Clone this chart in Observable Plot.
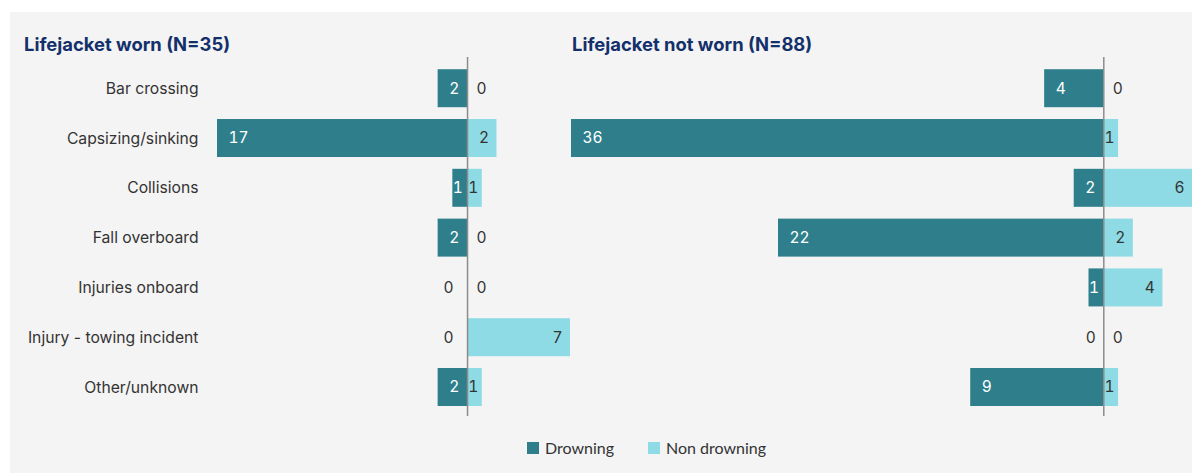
<!DOCTYPE html>
<html>
<head>
<meta charset="utf-8">
<script src="https://cdn.jsdelivr.net/npm/d3@7"></script>
<script src="https://cdn.jsdelivr.net/npm/@observablehq/plot@0.6"></script>
<style>
  html, body { margin: 0; padding: 0; background: #ffffff; }
  #wrap { position: relative; width: 1192px; height: 473px; overflow: hidden; }
  #bg { position: absolute; left: 10px; top: 12px; width: 1182px; height: 461px; background: #f4f4f4; }
  .title { position: absolute; top: 35px; font-family: Inter, sans-serif; font-weight: bold; font-size: 18.4px; line-height: 18px; color: #13306b; white-space: nowrap; }
  .panel { position: absolute; top: 0; }
  #legend { position: absolute; top: 438px; left: 527px; display: flex; align-items: center; font-family: Lato, sans-serif; font-size: 16px; color: #333; }
  .sw { width: 12px; height: 12px; margin-right: 6px; display: inline-block; }
  .item { display: flex; align-items: center; margin-right: 34px; }
</style>
</head>
<body>
<div id="wrap">
  <div id="bg"></div>
  <div class="title" style="left:24px">Lifejacket worn (N=35)</div>
  <div class="title" style="left:572px">Lifejacket not worn (N=88)</div>
  <div id="left" class="panel" style="left:0px"></div>
  <div id="right" class="panel" style="left:560px"></div>
  <div id="legend"></div>
</div>
<script>
const categories = ["Bar crossing", "Capsizing/sinking", "Collisions", "Fall overboard", "Injuries onboard", "Injury - towing incident", "Other/unknown"];
const wornDrowning = [2, 17, 1, 2, 0, 0, 2];
const wornNonDrowning = [0, 2, 1, 0, 0, 7, 1];
const notWornDrowning = [4, 36, 2, 22, 1, 0, 9];
const notWornNonDrowning = [0, 1, 6, 2, 4, 0, 1];
const seriesNames = ["Drowning", "Non drowning"];
const seriesColors = ["#2e7f8b", "#8edbe5"];

function panel({drown, nondrown, domain, width, marginLeft, marginRight, showY, zeroDx}) {
  const rows = categories.map((c, i) => ({cat: c, d: drown[i], n: nondrown[i]}));
  const font = {fontSize: 15.5};
  return Plot.plot({
    width, height: 430,
    marginTop: 57, marginBottom: 14, marginLeft, marginRight,
    style: {background: "transparent", fontFamily: "Inter, sans-serif", fontSize: "15.7px", color: "#333"},
    x: {domain, axis: null},
    y: {domain: categories, paddingInner: 0.237, paddingOuter: 0.223, align: 0.55, round: false, axis: showY ? "left" : null, tickSize: 0, tickPadding: 19, label: null},
    marks: [
      Plot.barX(rows.filter(r => r.d > 0), {x1: 0, x2: r => -r.d, y: "cat", fill: seriesColors[0]}),
      Plot.barX(rows.filter(r => r.n > 0), {x1: 0, x2: "n", y: "cat", fill: seriesColors[1]}),
      Plot.ruleX([0], {stroke: "#8c8c8c", strokeWidth: 1.5}),
      Plot.text(rows.filter(r => r.d > 1), {x: r => -r.d, y: "cat", text: "d", textAnchor: "start", dx: 11, fill: "white", ...font}),
      Plot.text(rows.filter(r => r.d === 1), {x: r => -r.d, y: "cat", text: "d", textAnchor: "start", dx: 0, fill: "white", ...font}),
      Plot.text(rows.filter(r => r.d === 0), {x: 0, y: "cat", text: "d", textAnchor: "end", dx: zeroDx, fill: "#333", ...font}),
      Plot.text(rows.filter(r => r.n > 1), {x: "n", y: "cat", text: "n", textAnchor: "end", dx: -8, fill: "#333", ...font}),
      Plot.text(rows.filter(r => r.n === 1), {x: "n", y: "cat", text: "n", textAnchor: "end", dx: -4, fill: "#333", ...font}),
      Plot.text(rows.filter(r => r.n === 0), {x: 0, y: "cat", text: "n", textAnchor: "start", dx: 9, fill: "#333", ...font})
    ]
  });
}

document.getElementById("left").append(panel({
  drown: wornDrowning, nondrown: wornNonDrowning, domain: [-17, 7],
  width: 600, marginLeft: 217, marginRight: 30, showY: true, zeroDx: -14
}));
document.getElementById("right").append(panel({
  drown: notWornDrowning, nondrown: notWornNonDrowning, domain: [-36, 6],
  width: 632, marginLeft: 11, marginRight: 0, showY: false, zeroDx: -8
}));

const legend = document.getElementById("legend");
seriesNames.forEach((name, i) => {
  const item = document.createElement("div");
  item.className = "item";
  const sw = document.createElement("span");
  sw.className = "sw";
  sw.style.background = seriesColors[i];
  item.append(sw, document.createTextNode(name));
  legend.append(item);
});
</script>
</body>
</html>
